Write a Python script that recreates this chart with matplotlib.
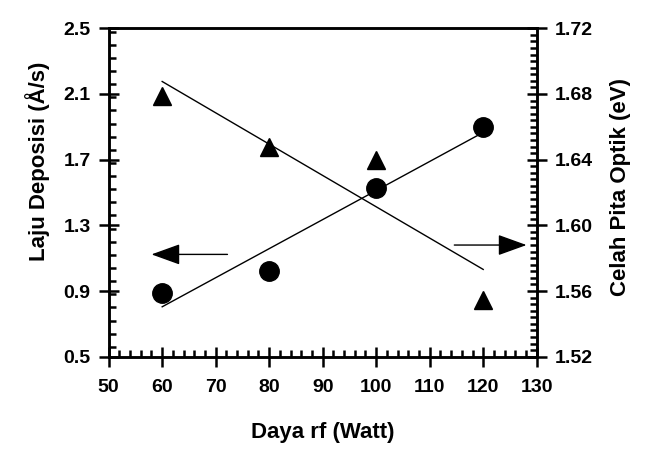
# ==========================================
# GRAFIK LAJU DEPOSISI DAN CELAH PITA OPTIK
# ==========================================

import numpy as np
import matplotlib.pyplot as plt
from matplotlib.ticker import MultipleLocator


# ==========================================
# DATA
# ==========================================

daya_rf = [60, 80, 100, 120]

# laju deposisi (Å/s) - sumbu kiri
laju_deposisi = [0.89, 1.02, 1.53, 1.90]

# celah pita optik (eV) - sumbu kanan
celah_pita = [1.679, 1.648, 1.640, 1.5545]

x_ticks = [50, 60, 70, 80, 90, 100, 110, 120, 130]
y_kiri_ticks = [0.5, 0.9, 1.3, 1.7, 2.1, 2.5]
y_kanan_ticks = [1.52, 1.56, 1.60, 1.64, 1.68, 1.72]

# panah penunjuk sumbu (dari, ke)
panah_kiri = ((72.2, 1.123), (58.0, 1.123))
panah_kanan = ((114.6, 1.588), (128.1, 1.588))


# ==========================================
# GAMBAR
# ==========================================

plt.rcParams["font.family"] = ["Liberation Sans", "DejaVu Sans"]
plt.rcParams["font.weight"] = "bold"

fig = plt.figure(figsize=(6.45, 4.67), dpi=100)
ax = fig.add_axes([0.1685, 0.2362, 0.6636, 0.7032])
ax2 = ax.twinx()

# garis regresi linier
xf = np.array([daya_rf[0], daya_rf[-1]])
a1, b1 = np.polyfit(daya_rf, laju_deposisi, 1)
a2, b2 = np.polyfit(daya_rf, celah_pita, 1)

ax.plot(xf, a1 * xf + b1, color="black", lw=1.0)
ax.plot(daya_rf, laju_deposisi, "o", color="black", markersize=14)

ax2.plot(xf, a2 * xf + b2, color="black", lw=1.0)
ax2.plot(daya_rf, celah_pita, "^", color="black", markersize=13)

# panah
gaya_panah = dict(
    arrowstyle="-|>,head_length=1.8,head_width=0.65",
    color="black", lw=1.0, shrinkA=0, shrinkB=0,
    mutation_scale=10,
)
ax.annotate("", xy=panah_kiri[1], xytext=panah_kiri[0], arrowprops=gaya_panah)
ax2.annotate("", xy=panah_kanan[1], xytext=panah_kanan[0], arrowprops=gaya_panah)


# ==========================================
# SUMBU
# ==========================================

ax.set_xlim(50, 130)
ax.set_ylim(0.5, 2.5)
ax2.set_ylim(1.52, 1.72)

ax.set_xticks(x_ticks)
ax.set_yticks(y_kiri_ticks)
ax2.set_yticks(y_kanan_ticks)
ax.set_yticklabels([f"{v:.1f}" for v in y_kiri_ticks])
ax2.set_yticklabels([f"{v:.2f}" for v in y_kanan_ticks])

ax.xaxis.set_minor_locator(MultipleLocator(2))
ax.yaxis.set_minor_locator(MultipleLocator(0.08))
ax2.yaxis.set_minor_locator(MultipleLocator(0.004))

ax.tick_params(axis="x", which="major", direction="inout", length=14,
               width=1.8, labelsize=14, pad=9, top=False)
ax.tick_params(axis="x", which="minor", direction="in", length=5,
               width=1.8, top=False)
ax.tick_params(axis="y", which="major", direction="inout", length=14,
               width=1.8, labelsize=14, pad=6, right=False)
ax.tick_params(axis="y", which="minor", direction="in", length=5,
               width=1.8, right=False)
ax2.tick_params(axis="y", which="major", direction="inout", length=14,
                width=1.8, labelsize=14, pad=6)
ax2.tick_params(axis="y", which="minor", direction="in", length=5,
                width=1.8)

for s in ax.spines.values():
    s.set_linewidth(1.8)
for s in ax2.spines.values():
    s.set_linewidth(1.8)

ax.set_xlabel("Daya rf (Watt)", fontsize=16, fontweight="bold")
ax.set_ylabel("Laju Deposisi (Å/s)", fontsize=16, fontweight="bold")
ax2.set_ylabel("Celah Pita Optik (eV)", fontsize=16, fontweight="bold")

ax.xaxis.set_label_coords(0.5, -0.2)
ax.yaxis.set_label_coords(-0.137, 0.594)
ax2.yaxis.set_label_coords(1.171, 0.517)

fig.savefig("out.png", dpi=100)
